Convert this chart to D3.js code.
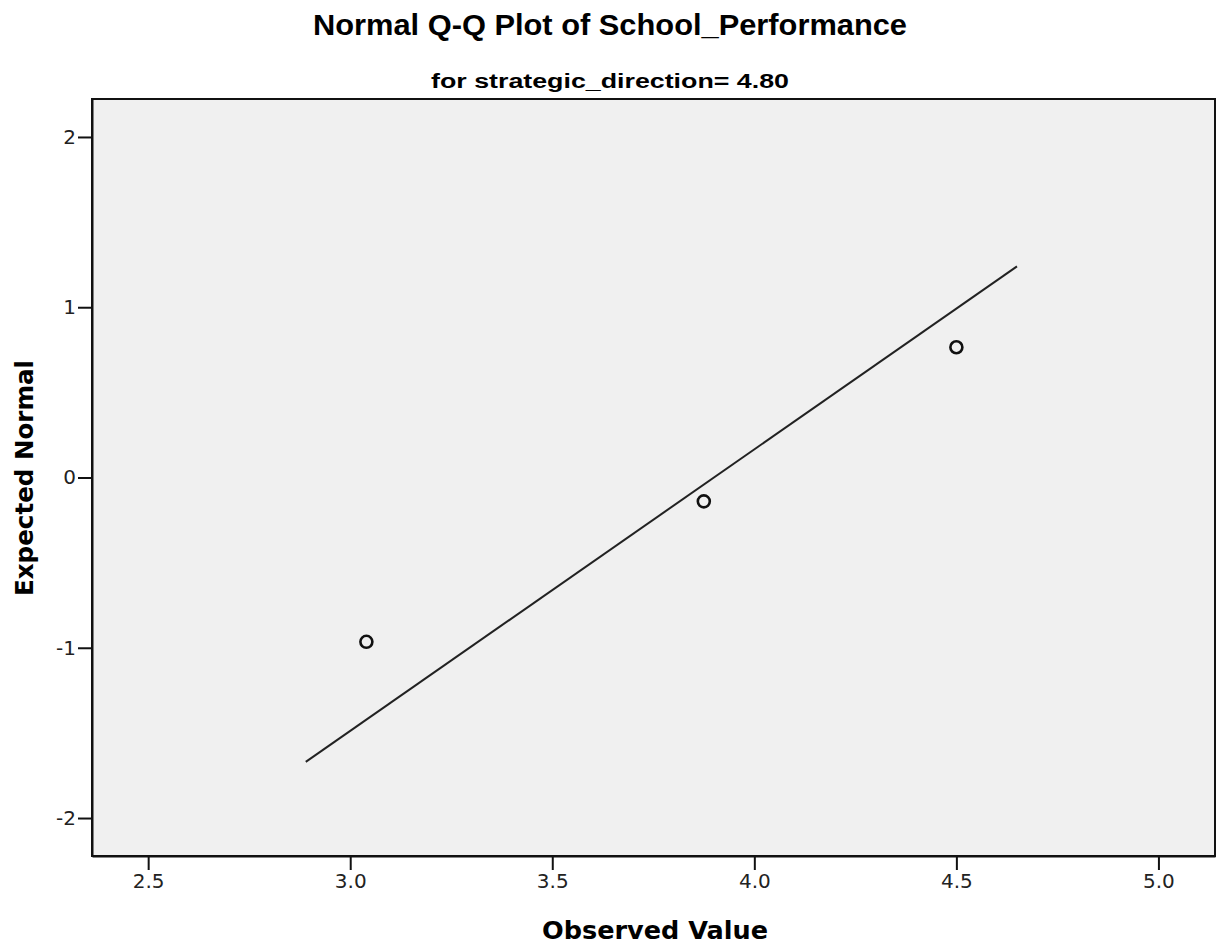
<!DOCTYPE html>
<html>
<head>
<meta charset="utf-8">
<script src="https://cdnjs.cloudflare.com/ajax/libs/d3/7.8.5/d3.min.js"></script>
<style>
  body { margin: 0; background: #fff; }
</style>
</head>
<body>
<div id="chart"></div>
<script>
// observed values and expected normal scores
var observed = [3.04, 3.875, 4.5];
var expected = [-0.965, -0.14, 0.765];

// reference line end points
var lineX = [2.89, 4.65];
var lineY = [-1.67, 1.24];

var xTicks = [2.5, 3.0, 3.5, 4.0, 4.5, 5.0];
var yTicks = [-2, -1, 0, 1, 2];

var width = 1217, height = 947;
var margin = {top: 99, right: 2, bottom: 91, left: 92};

var svg = d3.select("#chart").append("svg")
    .attr("width", width)
    .attr("height", height);

var x = d3.scaleLinear().domain([2.361, 5.14]).range([margin.left, width - margin.right]);
var y = d3.scaleLinear().domain([-2.223, 2.223]).range([height - margin.bottom, margin.top]);

// plot background
svg.append("rect")
    .attr("x", margin.left)
    .attr("y", margin.top)
    .attr("width", width - margin.left - margin.right)
    .attr("height", height - margin.top - margin.bottom)
    .style("fill", "#f0f0f0")
    .style("stroke", "#111")
    .style("stroke-width", 2);

// axes (plain hyphen for negatives, like the original)
var fmtY = function(d) { return String(d); };

var xAxis = svg.append("g")
    .attr("transform", "translate(0," + (height - margin.bottom) + ")")
    .call(d3.axisBottom(x).tickValues(xTicks).tickFormat(d3.format(".1f"))
        .tickSize(14).tickSizeOuter(0).tickPadding(4));

var yAxis = svg.append("g")
    .attr("transform", "translate(" + margin.left + ",0)")
    .call(d3.axisLeft(y).tickValues(yTicks).tickFormat(fmtY)
        .tickSize(14).tickSizeOuter(0).tickPadding(2));

[xAxis, yAxis].forEach(function(a) {
    a.select(".domain").style("stroke", "#111").style("stroke-width", 2);
    a.selectAll(".tick line").style("stroke", "#111").style("stroke-width", 2);
    a.selectAll(".tick text")
        .style("font-family", "'DejaVu Sans', sans-serif")
        .style("font-size", "20px")
        .style("fill", "#222");
});

// reference line
svg.append("line")
    .attr("x1", x(lineX[0])).attr("y1", y(lineY[0]))
    .attr("x2", x(lineX[1])).attr("y2", y(lineY[1]))
    .style("stroke", "#222")
    .style("stroke-width", 2);

// points
svg.selectAll(".pt")
    .data(observed)
    .enter()
    .append("circle")
    .attr("class", "pt")
    .attr("cx", function(d) { return x(d); })
    .attr("cy", function(d, i) { return y(expected[i]); })
    .attr("r", 6)
    .style("fill", "none")
    .style("stroke", "#111")
    .style("stroke-width", 2.6);

// titles
svg.append("text")
    .attr("x", 610).attr("y", 35)
    .attr("text-anchor", "middle")
    .attr("textLength", 594)
    .attr("lengthAdjust", "spacingAndGlyphs")
    .style("font-family", "'Liberation Sans', Arial, sans-serif")
    .style("font-size", "29px")
    .style("font-weight", "bold")
    .text("Normal Q-Q Plot of School_Performance");

svg.append("text")
    .attr("x", 610).attr("y", 88)
    .attr("text-anchor", "middle")
    .attr("textLength", 358)
    .attr("lengthAdjust", "spacingAndGlyphs")
    .style("font-family", "'Liberation Sans', Arial, sans-serif")
    .style("font-size", "20px")
    .style("font-weight", "bold")
    .text("for strategic_direction= 4.80");

// axis labels
svg.append("text")
    .attr("x", 655).attr("y", 939)
    .attr("text-anchor", "middle")
    .attr("textLength", 226)
    .attr("lengthAdjust", "spacingAndGlyphs")
    .style("font-family", "'DejaVu Sans', sans-serif")
    .style("font-size", "25px")
    .style("font-weight", "bold")
    .text("Observed Value");

svg.append("text")
    .attr("transform", "translate(33,478) rotate(-90)")
    .attr("text-anchor", "middle")
    .attr("textLength", 236)
    .attr("lengthAdjust", "spacingAndGlyphs")
    .style("font-family", "'DejaVu Sans', sans-serif")
    .style("font-size", "25px")
    .style("font-weight", "bold")
    .text("Expected Normal");
</script>
</body>
</html>
